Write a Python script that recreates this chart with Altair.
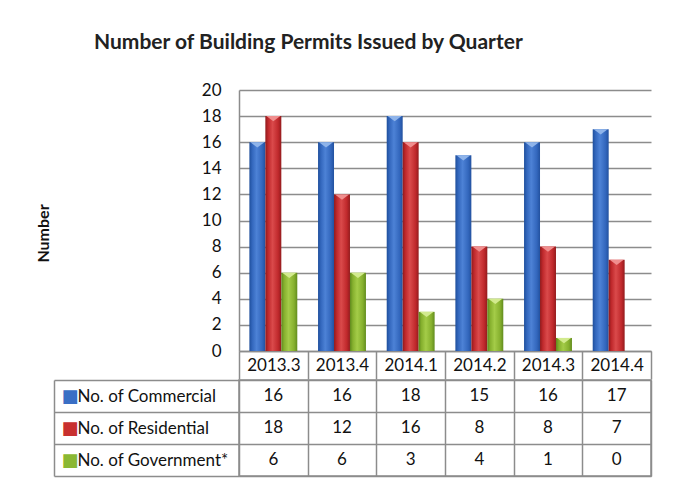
import altair as alt
import pandas as pd

quarters = ["2013.3", "2013.4", "2014.1", "2014.2", "2014.3", "2014.4"]
series = ["No. of Commercial", "No. of Residential", "No. of Government*"]
commercial = [16, 16, 18, 15, 16, 17]
residential = [18, 12, 16, 8, 8, 7]
government = [6, 6, 3, 4, 1, 0]
y_ticks = [0, 2, 4, 6, 8, 10, 12, 14, 16, 18, 20]

rows = []
for s, vals in zip(series, [commercial, residential, government]):
    for q, v in zip(quarters, vals):
        rows.append({"quarter": q, "series": s, "value": v})
df = pd.DataFrame(rows)

FONT = "Lato"
GRID = "#8c8c8c"
TXT = "#111111"
W = 412
H = 261
ROW_H = 32

grads = {
    "No. of Commercial": ["#1f4f9c", "#3367bd", "#4d82d6", "#3367bd", "#22519f"],
    "No. of Residential": ["#8f1a1c", "#c0292c", "#da4a4b", "#c0292c", "#931b1d"],
    "No. of Government*": ["#5f8a1d", "#86b02e", "#a4cc48", "#86b02e", "#628c1e"],
}
tops = ["#8fb4ea", "#f08e8e", "#d2ea8e"]
solid = ["#3a6fc5", "#c8302f", "#8ab833"]

x_enc = alt.X(
    "quarter:N", sort=quarters,
    scale=alt.Scale(domain=quarters, paddingInner=0, paddingOuter=0),
    axis=alt.Axis(title=None, orient="bottom", labelAngle=0, labelFont=FONT,
                  labelFontSize=17, labelColor=TXT, labelBaseline="middle",
                  labelPadding=-14, tickBand="extent", ticks=True, tickSize=28,
                  tickColor=GRID, tickWidth=1.5, domain=True, domainColor=GRID,
                  domainWidth=1.5, grid=False),
)
xoff = alt.XOffset("series:N", sort=series,
                   scale=alt.Scale(domain=series, paddingInner=0, paddingOuter=0.65))
y_enc = alt.Y(
    "value:Q",
    scale=alt.Scale(domain=[0, 20], nice=False, zero=True),
    axis=alt.Axis(values=y_ticks, title="Number", titleFont=FONT, titleFontSize=16,
                  titleFontWeight="bold", titleColor=TXT, titleAngle=270,
                  titleAlign="center", titleBaseline="middle", titleX=-196, titleY=143,
                  labelFont=FONT, labelFontSize=17, labelColor=TXT, labelPadding=18,
                  ticks=False, domain=True, domainColor=GRID, domainWidth=1.5,
                  grid=True, gridColor=GRID, gridWidth=1.5),
)

layers = []
for s in series:
    st = grads[s]
    g = alt.Gradient(gradient="linear", x1=0, x2=1, y1=0, y2=0,
                     stops=[alt.GradientStop(offset=0, color=st[0]),
                            alt.GradientStop(offset=0.18, color=st[1]),
                            alt.GradientStop(offset=0.45, color=st[2]),
                            alt.GradientStop(offset=0.8, color=st[3]),
                            alt.GradientStop(offset=1, color=st[4])])
    layers.append(
        alt.Chart(df).transform_filter(alt.datum.series == s)
        .mark_bar(color=g, stroke=None)
        .encode(x=x_enc, xOffset=xoff, y=y_enc)
    )

tri = (
    alt.Chart(df).transform_filter(alt.datum.value > 0)
    .mark_point(shape="M-1,0L1,0L0,0.75Z", filled=True, size=196, opacity=1)
    .encode(x=x_enc, xOffset=xoff, y=y_enc,
            color=alt.Color("series:N", scale=alt.Scale(domain=series, range=tops), legend=None))
)
layers.append(tri)

bars = alt.layer(*layers).properties(width=W, height=H)

tx = alt.X("quarter:N", sort=quarters,
           scale=alt.Scale(domain=quarters, paddingInner=0, paddingOuter=0),
           axis=alt.Axis(title=None, labels=False, ticks=False, domain=False, grid=True,
                         gridColor=GRID, gridWidth=1.5, tickBand="extent"))
ty = alt.Y("series:N", sort=series,
           scale=alt.Scale(domain=series, paddingInner=0, paddingOuter=0),
           axis=alt.Axis(title=None, orient="left", domain=False, ticks=True,
                         tickBand="extent", tickSize=185, tickColor=GRID, tickWidth=1.5,
                         grid=True, gridColor=GRID, gridWidth=1.5, labelAlign="left",
                         labelPadding=-23, labelFont=FONT, labelFontSize=17,
                         labelColor=TXT))
ty2 = alt.Y("series:N", sort=series,
            scale=alt.Scale(domain=series, paddingInner=0, paddingOuter=0),
            axis=alt.Axis(title=None, orient="left", offset=185, domain=True,
                          domainColor=GRID, domainWidth=1.5, ticks=False, tickSize=0,
                          grid=False, labelExpr="'\u25A0'", labelAlign="left",
                          labelPadding=-7, labelFont="DejaVu Sans", labelFontSize=18,
                          labelColor={"condition": [
                              {"test": "datum.value == 'No. of Commercial'", "value": solid[0]},
                              {"test": "datum.value == 'No. of Residential'", "value": solid[1]}],
                              "value": solid[2]}))

text = alt.Chart(df).mark_text(font=FONT, fontSize=17, color=TXT).encode(
    x=tx, y=ty, text="value:Q")
aux = alt.Chart(df).mark_point(opacity=0).encode(y=ty2)

table = (
    alt.layer(text, aux)
    .resolve_scale(y="independent")
    .properties(width=W, height=ROW_H * 3,
                view=alt.ViewBackground(stroke=GRID, strokeWidth=1.5))
)

chart = (
    alt.vconcat(bars, table, spacing=-10)
    .properties(
        title=alt.TitleParams("Number of Building Permits Issued by Quarter",
                              anchor="start", font=FONT, fontSize=21,
                              fontWeight="bold", color="#222222", offset=28, dx=59),
        padding={"left": 27, "top": 24, "right": 5, "bottom": 0},
        background="white",
    )
    .configure_view(stroke=None)
)

chart.save("out.html", embed_options={"renderer": "svg", "actions": False})
